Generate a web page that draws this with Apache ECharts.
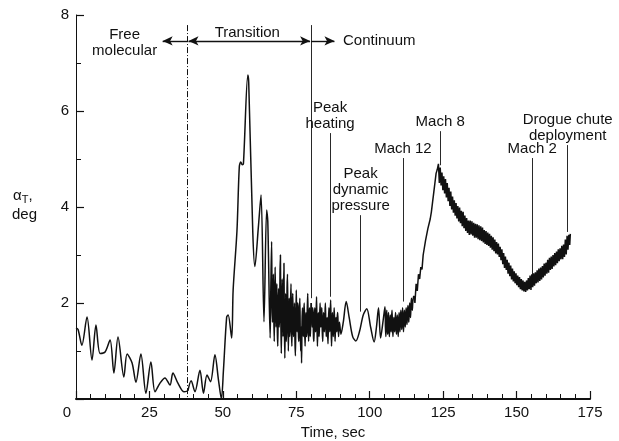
<!DOCTYPE html>
<html>
<head>
<meta charset="utf-8">
<script src="https://cdn.jsdelivr.net/npm/echarts@6/dist/echarts.min.js"></script>
<style>
html,body{margin:0;padding:0;background:#fff;width:619px;height:441px;overflow:hidden;}
#c{width:619px;height:441px;}
</style>
</head>
<body>
<div id="c"></div>
<script>
// ---- data (time in sec, alpha_T in deg) ----
const xTicks = [0, 25, 50, 75, 100, 125, 150, 175];
const yTicks = [2, 4, 6, 8];

const freeMolecular = [
  [0,1.48],[0.7,1.45],[2.0,1.12],[3.75,1.71],[5.45,0.81],[6.8,1.54],[8.2,0.95],[9.9,0.98],
  [11.6,1.23],[12.9,0.54],[14.3,1.29],[16.3,0.46],[17.4,0.94],[19.1,0.75],[20.4,0.35],
  [22.1,0.94],[23.8,0.12],[25.5,0.77],[26.9,0.15],[28.6,0.33],[30.3,0.44],[32.0,0.29],
  [33.0,0.54],[34.7,0.33],[36.8,0.15],[38.1,0.17]
];

const transition = [
  [38.1,0.17],[39.2,0.38],[40.5,0.15],[42.2,0.6],[43.4,0.12],[44.6,0.5],[45.8,0.36],
  [47.3,0.92],[48.5,0.4],[49.5,0.0],[50.2,0.6],[51.3,1.71],[51.8,1.75],[53.0,1.27],
  [53.5,2.27],[54.8,3.5],[55.6,4.84],[56.1,4.94],[56.6,4.88],[57.0,4.9],[58.5,6.75],
  [58.8,6.6],[60.2,3.46],[60.9,2.76],[62.1,3.59],[63.0,4.25],[64.0,1.61],[64.9,3.94],
  [65.3,3.7],[66.1,1.27],[66.35,2.4],[66.6,3.28],[66.75,2.0],[66.9,1.6],[67.05,2.2],
  [67.2,2.6],[67.35,1.7],[67.5,1.2],[67.65,2.1],[67.8,2.75],[67.95,1.9],[68.1,1.5],
  [68.25,2.2],[68.4,2.4],[68.55,1.4],[68.7,1.1],[68.85,1.9],[69.0,2.3],[69.15,1.5],
  [69.3,1.7],[69.45,2.6],[69.6,3.0],[69.75,1.6],[69.9,0.95],[70.05,1.8],[70.2,2.5],
  [70.35,1.9],[70.5,1.3],[70.65,2.2],[70.8,2.83],[70.95,1.5],[71.1,0.85],[71.25,1.7],
  [71.4,2.2],[71.55,1.2],[71.7,1.4],[71.85,2.3],[72.0,2.6],[72.15,1.6],[72.3,1.0],
  [72.45,1.8],[72.6,2.1],[72.75,1.3],[72.9,1.5],[73.05,2.0],[73.2,2.4],[73.35,1.4],
  [73.5,1.1],[73.65,1.9],[73.8,2.2],[73.95,1.5],[74.1,1.3],[74.25,1.7],[74.4,2.0],
  [74.55,1.2],[74.7,0.9],[74.85,1.6],[75.0,2.27],[75.15,1.6],[75.3,1.4],[75.45,2.0],
  [75.6,1.9],[75.75,1.3],[75.9,1.2],[76.05,1.8],[76.2,2.1],[76.35,1.4],[76.5,1.0],
  [76.65,1.5],[76.8,0.75],[76.95,1.6],[77.1,1.9],[77.25,1.5],[77.4,1.3],[77.55,1.8],
  [77.7,2.0],[77.85,1.4],[78.0,1.1],[78.15,1.6],[78.3,1.8],[78.45,1.3],[78.6,1.4],
  [78.75,1.9],[78.9,2.2],[79.05,1.5],[79.2,1.2],[79.35,1.7],[79.5,1.9],[79.65,1.4],
  [79.8,1.3],[79.95,1.8],[80.1,2.0]
];

// continuum, up to the start of the Mach 12 climb
const continuumLow = [
  [80.1,2.0],[80.25,1.6],[80.4,1.5],[80.55,1.9],[80.7,1.8],[80.85,1.3],[81.0,1.2],[81.15,1.7],
  [81.3,1.9],[81.45,1.5],[81.6,1.4],[81.75,1.8],[81.9,2.13],[82.05,1.5],[82.2,1.1],[82.35,1.6],
  [82.5,1.8],[82.65,1.4],[82.8,1.3],[82.95,1.7],[83.1,2.0],[83.25,1.6],[83.4,1.5],[83.55,1.8],
  [83.7,1.9],[83.85,1.4],[84.0,1.2],[84.15,1.6],[84.3,1.8],[84.45,1.5],[84.6,1.4],[84.75,1.7],
  [84.9,2.0],[85.05,1.6],[85.2,1.3],[85.35,1.5],[85.5,1.7],[85.65,1.4],[85.8,1.15],[85.95,1.6],
  [86.1,1.9],[86.25,1.6],[86.4,1.4],[86.55,1.8],[86.7,2.06],[86.85,1.5],[87.0,1.1],[87.15,1.5],
  [87.3,1.8],[87.45,1.5],[87.6,1.3],[87.75,1.6],[87.9,1.9],[88.05,1.6],[88.2,1.2],[88.35,1.5],
  [88.5,1.7],[88.65,1.5],[88.8,1.4],[88.95,1.7],[89.1,1.8],[89.25,1.5],[89.4,1.3],[89.55,1.5],
  [89.7,1.6],[90.2,1.35],[91.0,1.6],[92.0,2.03],[93.0,1.7],[94.2,1.3],[95.3,1.21],[96.5,1.4],
  [97.8,1.75],[99.0,1.88],[100.3,1.5],[101.5,1.19],[102.3,1.5],[103.0,1.9],[103.7,1.27],
  [104.5,1.6],[105.2,1.92],
  [105.35,1.5],[105.5,1.3],[105.65,1.6],[105.8,1.85],[105.95,1.5],[106.1,1.35],[106.25,1.6],
  [106.4,1.8],[106.55,1.45],[106.7,1.3],[106.85,1.55],[107.0,1.75],[107.15,1.5],[107.3,1.4],
  [107.45,1.7],[107.6,1.85],[107.75,1.5],[107.9,1.3],[108.05,1.55],[108.2,1.7],[108.35,1.5],
  [108.5,1.4],[108.65,1.65],[108.8,1.8],[108.95,1.5],[109.1,1.35],[109.25,1.6],[109.4,1.75],
  [109.55,1.5],[109.7,1.3],[109.85,1.6],[110.0,1.8],[110.15,1.55],[110.3,1.4],[110.45,1.7],
  [110.6,1.85],[110.75,1.6],[110.9,1.45],[111.05,1.7],[111.2,1.9],[111.35,1.6],[111.5,1.4],
  [111.65,1.65],[111.8,1.85],[111.95,1.65],[112.1,1.5],[112.25,1.75],[112.4,1.9],[112.55,1.7],
  [112.7,1.55],[112.85,1.8],[113.0,1.95],[113.15,1.75],[113.3,1.6],[113.45,1.85],[113.6,2.0],
  [113.75,1.8],[113.9,1.7],[114.05,1.95],[114.2,2.1],[114.35,1.95],[114.5,1.85],[114.7,2.05],
  [115.0,2.15]
];

// continuum, Mach 12 climb through drogue chute deployment
const continuumHigh = [
  [115.0,2.15],[115.4,2.0],[115.8,2.4],[116.2,2.25],[116.6,2.6],[117.0,2.5],[117.4,2.75],
  [117.8,2.7],[118.2,3.0],[118.6,3.0],[119.0,3.3],[119.4,3.3],[119.8,3.55],[120.2,3.55],
  [120.6,3.75],[121.0,3.9],[121.4,4.1],[121.8,4.3],[122.2,4.5],[122.6,4.7],[123.0,4.78],
  [123.4,4.9],[123.7,4.5],[124.0,4.82],[124.3,4.45],[124.6,4.72],[124.9,4.35],[125.2,4.64],
  [125.5,4.28],[125.8,4.58],[126.1,4.2],[126.4,4.5],[126.7,4.12],[127.0,4.4],[127.3,4.02],
  [127.6,4.32],[127.9,3.95],[128.2,4.22],[128.5,3.88],[128.8,4.14],[129.1,3.82],[129.4,4.08],
  [129.7,3.76],[130.0,4.02],[130.3,3.7],[130.6,3.99],[130.9,3.66],[131.2,3.92],[131.5,3.6],
  [131.8,3.9],[132.1,3.56],[132.4,3.82],[132.7,3.5],[133.0,3.77],[133.3,3.46],[133.6,3.72],
  [133.9,3.42],[134.2,3.72],[134.5,3.43],[134.8,3.7],[135.1,3.4],[135.4,3.67],[135.7,3.36],
  [136.0,3.65],[136.3,3.36],[136.6,3.64],[136.9,3.33],[137.2,3.62],[137.5,3.31],[137.8,3.6],
  [138.1,3.29],[138.4,3.57],[138.7,3.26],[139.0,3.52],[139.3,3.23],[139.6,3.5],[139.9,3.21],
  [140.2,3.47],[140.5,3.19],[140.8,3.44],[141.1,3.15],[141.4,3.4],[141.7,3.11],[142.0,3.37],
  [142.3,3.08],[142.6,3.32],[142.9,3.03],[143.2,3.27],[143.5,3.01],[143.8,3.24],[144.1,2.96],
  [144.4,3.17],[144.7,2.89],[145.0,3.12],[145.3,2.81],[145.6,3.04],[145.9,2.73],[146.2,2.97],
  [146.5,2.69],[146.8,2.9],[147.1,2.61],[147.4,2.84],[147.7,2.56],[148.0,2.78],[148.3,2.49],
  [148.6,2.72],[148.9,2.45],[149.2,2.66],[149.5,2.41],[149.8,2.62],[150.1,2.37],[150.4,2.57],
  [150.7,2.33],[151.0,2.54],[151.3,2.29],[151.6,2.5],[151.9,2.26],[152.2,2.47],[152.5,2.24],
  [152.8,2.44],[153.1,2.23],[153.4,2.47],[153.7,2.26],[154.0,2.52],[154.3,2.29],[154.6,2.57],
  [154.9,2.27],[155.2,2.6],[155.5,2.33],[155.8,2.62],[156.1,2.36],[156.4,2.64],[156.7,2.41],
  [157.0,2.68],[157.3,2.43],[157.6,2.72],[157.9,2.46],[158.2,2.74],[158.5,2.49],[158.8,2.77],
  [159.1,2.53],[159.4,2.82],[159.7,2.57],[160.0,2.84],[160.3,2.61],[160.6,2.9],[160.9,2.63],
  [161.2,2.94],[161.5,2.69],[161.8,2.97],[162.1,2.71],[162.4,3.0],[162.7,2.76],[163.0,3.04],
  [163.3,2.79],[163.6,3.07],[163.9,2.83],[164.2,3.12],[164.5,2.87],[164.8,3.14],[165.1,2.91],
  [165.4,3.19],[165.7,2.91],[166.0,3.22],[166.3,2.96],[166.6,3.32],[166.9,3.01],[167.2,3.4],
  [167.5,3.11],[167.8,3.42],[168.1,3.21],[168.3,3.44]
];

// event markers: label, time, top of line (deg), bottom of line (deg)
const eventNames  = ['Peak\nheating', 'Peak\ndynamic\npressure', 'Mach 12', 'Mach 8', 'Mach 2', 'Drogue chute\ndeployment'];
const eventTimes  = [86.5, 96.9, 111.3, 124.0, 155.3, 167.4];
const eventTops   = [5.54, 3.83, 5.02, 5.58, 5.02, 5.29];
const eventBottoms= [2.13, 1.82, 2.03, 4.87, 2.44, 3.48];

// flow-regime boundaries
const regimeNames = ['Free\nmolecular', 'Transition', 'Continuum'];
const regimeBounds = [38, 80];

const chart = echarts.init(document.getElementById('c'), null, {renderer:'canvas', width:619, height:441});
const FONT = 'Liberation Sans, Arial, Helvetica, sans-serif';
const ink = '#111';

const arrowY = 7.46;
const markData = [];
markData.push([{coord:[regimeBounds[0], 7.79], lineStyle:{type:[6,2,1,2], width:1, color:ink}, symbol:'none'}, {coord:[regimeBounds[0], 0], symbol:'none'}]);
markData.push([{coord:[regimeBounds[1], 7.79], lineStyle:{type:'solid', width:0.9, color:ink}, symbol:'none'}, {coord:[regimeBounds[1], 2.1], symbol:'none'}]);
markData.push([{coord:[regimeBounds[0], arrowY], symbol:'none', lineStyle:{width:1.4,color:ink,type:'solid'}}, {coord:[29.5, arrowY], symbol:'arrow'}]);
markData.push([{coord:[regimeBounds[0]+0.3, arrowY], symbol:'arrow', lineStyle:{width:1.4,color:ink,type:'solid'}}, {coord:[regimeBounds[1]-0.3, arrowY], symbol:'arrow'}]);
markData.push([{coord:[regimeBounds[1], arrowY], symbol:'none', lineStyle:{width:1.4,color:ink,type:'solid'}}, {coord:[88, arrowY], symbol:'arrow'}]);
for (let i = 0; i < eventNames.length; i++) {
  markData.push([
    {coord:[eventTimes[i], eventTops[i]], symbol:'none',
     lineStyle:{width:0.9, color:ink, type:'solid'},
     label:{show:true, position:'start', formatter:eventNames[i], distance:1,
            color:ink, fontFamily:FONT, fontSize:15, lineHeight:16, align:'center'}},
    {coord:[eventTimes[i], eventBottoms[i]], symbol:'none'}
  ]);
}

const lineSeries = (data, smooth) => ({
  type:'line', data, showSymbol:false, symbol:'none', animation:false, silent:true,
  smooth:smooth, lineStyle:{color:ink, width:1.5}, z:3
});

const option = {
  animation:false,
  backgroundColor:'#fff',
  grid:{left:76, right:29, top:15, bottom:42, containLabel:false, outerBoundsMode:'none'},
  xAxis:{
    type:'value', min:0, max:175, interval:25,
    axisLine:{show:true, onZero:false, lineStyle:{color:ink, width:2}},
    axisTick:{show:true, inside:true, length:8, lineStyle:{color:ink, width:1.2}},
    minorTick:{show:true, splitNumber:5, length:5, lineStyle:{color:ink, width:1}},
    splitLine:{show:false},
    axisLabel:{color:ink, fontFamily:FONT, fontSize:15, margin:6,
               formatter:(v)=> v === 0 ? '{z|0}' : (xTicks.includes(v) ? String(v) : ''),
               rich:{z:{color:ink, fontFamily:FONT, fontSize:15, padding:[0,18,0,0]}}},
    name:'Time, sec', nameLocation:'middle', nameGap:24,
    nameTextStyle:{color:ink, fontFamily:FONT, fontSize:15}
  },
  yAxis:{
    type:'value', min:0, max:8, interval:2,
    axisLine:{show:true, onZero:false, lineStyle:{color:ink, width:1}},
    axisTick:{show:true, inside:true, length:8, lineStyle:{color:ink, width:1.2}},
    minorTick:{show:true, splitNumber:2, length:5, lineStyle:{color:ink, width:1}},
    splitLine:{show:false},
    axisLabel:{color:ink, fontFamily:FONT, fontSize:15, margin:7,
               formatter:(v)=> yTicks.includes(v) ? String(v) : ''}
  },
  series:[
    Object.assign(lineSeries(freeMolecular, 0.3), {
      markLine:{silent:true, animation:false, symbolSize:[7,10], precision:3, data:markData}
    }),
    lineSeries(transition, 0.3),
    lineSeries(continuumLow, 0.3),
    lineSeries(continuumHigh, false)
  ]
};
chart.setOption(option);

// text graphics positioned from the data scale
const p0 = chart.convertToPixel({gridIndex:0}, [regimeBounds[0], arrowY]);
const p1 = chart.convertToPixel({gridIndex:0}, [regimeBounds[1], arrowY]);
chart.setOption({graphic:[
  {id:'ytitle1', type:'text', left:13, top:188, style:{
    rich:{a:{fontSize:15, fontFamily:FONT, fill:ink}, s:{fontSize:11, fontFamily:FONT, fill:ink, padding:[9,0,0,0]}},
    text:'{a|α}{s|T}{a|,}', fill:ink}},
  {id:'ytitle2', type:'text', left:12, top:207, style:{text:'deg', font:'15px ' + FONT, fill:ink}},
  {id:'r0', type:'text', x:p0[0]-63, y:p0[1]-14, style:{text:regimeNames[0], font:'15px ' + FONT, fill:ink, align:'center', lineHeight:16, verticalAlign:'top'}},
  {id:'r1', type:'text', x:(p0[0]+p1[0])/2 - 2, y:p0[1]-16, style:{text:regimeNames[1], font:'15px ' + FONT, fill:ink, align:'center', verticalAlign:'top'}},
  {id:'r2', type:'text', x:p1[0]+32, y:p1[1]-8, style:{text:regimeNames[2], font:'15px ' + FONT, fill:ink, align:'left', verticalAlign:'top'}}
]});
</script>
</body>
</html>
